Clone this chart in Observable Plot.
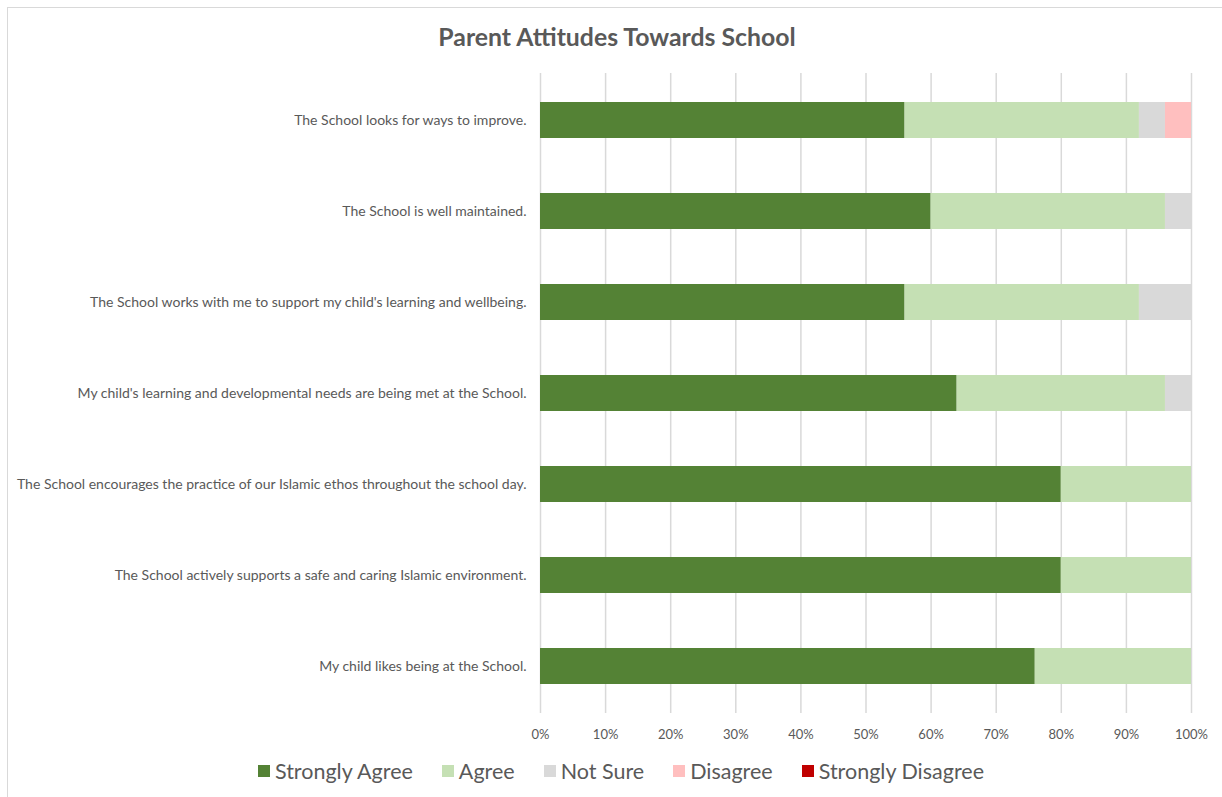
<!DOCTYPE html>
<html>
<head>
<meta charset="utf-8">
<script src="https://cdn.jsdelivr.net/npm/d3@7"></script>
<script src="https://cdn.jsdelivr.net/npm/@observablehq/plot@0.6"></script>
<style>
  html, body { margin: 0; padding: 0; background: #fff; }
  #wrap { position: relative; width: 1222px; height: 797px; overflow: hidden; font-family: Lato, "Open Sans", sans-serif; }
  #frame { position: absolute; left: 7px; top: 7px; width: 1230px; height: 810px; border: 1.5px solid #d9d9d9; box-sizing: border-box; }
  #title { position: absolute; left: 0; top: 22px; width: 1234px; text-align: center; font-size: 24.8px; font-weight: bold; color: #595959; }
  #chart { position: absolute; left: 0; top: 0; }
  #legend { position: absolute; left: 0; top: 758px; width: 1242px; display: flex; justify-content: center; gap: 29px; font-size: 21.5px; color: #595959; }
  #legend .item { display: flex; align-items: center; }
  #legend .sw { width: 12px; height: 12px; display: inline-block; margin-right: 5px; }
</style>
</head>
<body>
<div id="wrap">
  <div id="frame"></div>
  <div id="chart"></div>
  <div id="title">Parent Attitudes Towards School</div>
  <div id="legend"></div>
</div>
<script>
const statements = [
  "The School looks for ways to improve.",
  "The School is well maintained.",
  "The School works with me to support my child's learning and wellbeing.",
  "My child's learning and developmental needs are being met at the School.",
  "The School encourages the practice of our Islamic ethos throughout the school day.",
  "The School actively supports a safe and caring Islamic environment.",
  "My child likes being at the School."
];
const responses = ["Strongly Agree", "Agree", "Not Sure", "Disagree", "Strongly Disagree"];
const colors = ["#548235", "#c5e0b4", "#d9d9d9", "#ffbfbf", "#c00000"];

const stronglyAgree    = [56, 60, 56, 64, 80, 80, 76];
const agree            = [36, 36, 36, 32, 20, 20, 24];
const notSure          = [4, 4, 8, 4, 0, 0, 0];
const disagree         = [4, 0, 0, 0, 0, 0, 0];
const stronglyDisagree = [0, 0, 0, 0, 0, 0, 0];
const xTicks = [0, 10, 20, 30, 40, 50, 60, 70, 80, 90, 100];

const seriesValues = [stronglyAgree, agree, notSure, disagree, stronglyDisagree];
const data = [];
statements.forEach((s, i) => {
  responses.forEach((r, j) => {
    data.push({statement: s, response: r, value: seriesValues[j][i]});
  });
});

const chart = Plot.plot({
  width: 1222,
  height: 760,
  marginTop: 73,
  marginBottom: 47,
  marginLeft: 540,
  marginRight: 31,
  style: {fontFamily: "Lato, 'Open Sans', sans-serif", fontSize: "14px", color: "#595959", background: "transparent"},
  x: {domain: [0, 100], ticks: xTicks, tickFormat: d => d + "%", label: null, tickSize: 0, tickPadding: 16},
  y: {domain: statements, label: null, paddingInner: 0.6, paddingOuter: 0.3, tickSize: 0, tickPadding: 14},
  color: {domain: responses, range: colors},
  marks: [
    Plot.gridX(xTicks, {stroke: "#d9d9d9", strokeOpacity: 1, strokeWidth: 1.5}),
    Plot.barX(data, Plot.stackX({x: "value", y: "statement", fill: "response", insetLeft: 0, insetRight: 0})),
    Plot.axisX({ticks: xTicks, tickFormat: d => d + "%", tickSize: 0, tickPadding: 16, label: null, fontSize: 13}),
    Plot.axisY({tickSize: 0, tickPadding: 14, label: null, fontSize: 14})
  ]
});
document.getElementById("chart").appendChild(chart);

const legend = document.getElementById("legend");
responses.forEach((r, j) => {
  const item = document.createElement("div");
  item.className = "item";
  const sw = document.createElement("span");
  sw.className = "sw";
  sw.style.background = colors[j];
  item.appendChild(sw);
  item.appendChild(document.createTextNode(r));
  legend.appendChild(item);
});
</script>
</body>
</html>
